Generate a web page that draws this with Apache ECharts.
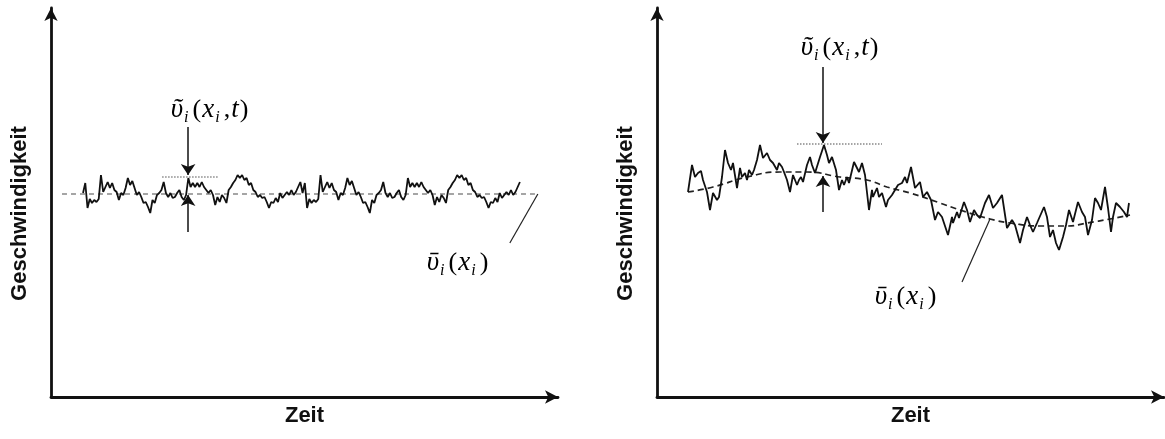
<!DOCTYPE html>
<html>
<head>
<meta charset="utf-8">
<script src="https://cdn.jsdelivr.net/npm/echarts@6/dist/echarts.min.js"></script>
<style>
  html, body { margin: 0; padding: 0; background: #fff; }
  #main { width: 1165px; height: 439px; }
</style>
</head>
<body>
<div id="main"></div>
<script>
// Links: Geschwindigkeit um einen konstanten Mittelwert (Messwert pro Zeitschritt)
var leftSpeed = [
  204,214,189,198,194,197,195,198,222,205,
  210,215,209,214,207,205,197,204,202,209,
  219,212,216,209,202,205,200,194,195,190,
  184,197,194,202,204,207,215,204,200,204,
  199,200,204,207,200,197,202,219,210,214,
  210,214,210,215,210,207,204,207,202,192,
  200,195,202,199,194,207,210,214,217,222,
  219,222,217,219,212,214,207,205,200,202,
  199,200,195,189,195,194,199,195,204,199,
  202,205,202,207,202,205,210,215,
  204,214,189,198,194,197,195,198,222,205,
  210,215,209,214,207,205,197,204,202,209,
  219,212,216,209,202,205,200,194,195,190,
  184,197,194,202,204,207,215,204,200,204,
  199,200,204,207,200,197,202,219,210,214,
  210,214,210,215,210,207,204,207,202,192,
  200,195,202,199,194,207,210,214,217,222,
  219,222,217,219,212,214,207,205,200,202,
  199,200,195,189,195,194,199,195,204,199,
  202,205,202,207,202,205,210,215
];
var leftMeanTime = [-9.4, 201.7];
var leftMeanSpeed = [203, 203];

// Rechts: Geschwindigkeit mit veraenderlichem Mittelwert
var rightTime = [
  31,35,38,41,44,46,50,53,56,60,62,65,68,71,74,76,80,83,85,88,
  90,92,95,97,100,103,106,110,113,116,120,122,125,127,130,133,136,140,142,144,
  146,150,153,155,158,163,167,170,172,175,179,182,185,187,190,192,197,200,202,205,
  208,212,215,216,220,222,225,229,231,235,238,241,245,248,250,254,258,263,266,270,
  274,278,281,285,291,295,296,300,302,307,310,313,317,320,323,328,332,336,340,345,
  350,355,358,363,366,370,373,376,380,387,390,393,396,399,402,406,409,412,416,421,
  425,428,431,435,438,441,444,448,451,454,456,459,463,467,470,472
];
var rightSpeed = [
  205,232,220,224,226,217,205,187,204,197,200,220,247,234,227,234,209,229,220,224,
  217,227,222,227,237,252,239,244,237,234,227,234,230,225,217,205,222,212,217,220,
  215,232,240,232,224,240,252,242,234,240,227,207,217,212,220,214,235,229,225,234,
  222,187,207,200,209,200,204,190,197,202,207,212,214,220,214,230,209,215,200,205,
  197,177,185,180,162,180,174,185,179,195,187,175,187,182,179,194,202,189,194,202,
  169,177,172,154,167,180,172,165,174,190,180,160,167,154,147,160,172,187,175,195,
  185,180,162,177,199,194,187,210,189,165,180,194,190,185,180,194
];
var rightMeanTime = [31,56,90,123,150,183,210,230,253,283,303,333,353,383,410,430,453,473];
var rightMeanSpeed = [205,210,220,225,225,220,217,210,204,194,187,178,174,171,171,174,178,182];

// Markierungen (Zeit, Geschwindigkeit)
var leftArrowDown = [[46.9, 270], [46.9, 222]];
var leftArrowUp = [[46.9, 165], [46.9, 202]];
var leftPeakLine = [[35.3, 220], [60.2, 220]];
var leftLeader = [[203, 203], [190.5, 154]];
var rightArrowDown = [[166, 330], [166, 254]];
var rightArrowUp = [[166, 185], [166, 221]];
var rightPeakLine = [[140, 253], [225, 253]];
var rightLeader = [[333, 178], [305, 115]];

function zip(t, v) {
  return t.map(function (x, i) { return [x, v[i]]; });
}

var serif = '"Liberation Serif", "DejaVu Serif", serif';
var mathRich = {
  v: { fontFamily: serif, fontStyle: 'italic', fontSize: 27, color: '#111', lineHeight: 32 },
  n: { fontFamily: serif, fontSize: 26, color: '#111', lineHeight: 32, padding: [0, 1, 0, 1] },
  s: { fontFamily: serif, fontStyle: 'italic', fontSize: 16, color: '#111', verticalAlign: 'bottom', lineHeight: 32, padding: [0, 3, 0, 1] }
};
var tildeLabel = '{v|\u1FE6}{s|i}{n|(}{v|x}{s|i}{n|,}{v|t}{n|)}';
var barLabel = '{v|\u1FE1}{s|i}{n|(}{v|x}{s|i}{n|)}';

function makeAxis(grid, min, max, name, isY) {
  var ax = {
    gridIndex: grid,
    type: 'value',
    min: min,
    max: max,
    name: name,
    nameLocation: 'middle',
    nameGap: isY ? 20 : 8,
    nameTextStyle: {
      fontFamily: '"Liberation Sans", Arial, sans-serif',
      fontWeight: 'bold',
      fontSize: 22,
      color: '#111'
    },
    axisLine: {
      show: true,
      onZero: false,
      symbol: ['none', 'arrow'],
      symbolSize: [10, 13],
      lineStyle: { color: '#111', width: 2.8 }
    },
    axisTick: { show: false },
    axisLabel: { show: false },
    splitLine: { show: false }
  };
  if (isY) ax.nameTextStyle.padding = [0, 22, 0, 0];
  return ax;
}

function arrow(grid, coords) {
  return {
    type: 'lines', coordinateSystem: 'cartesian2d',
    xAxisIndex: grid, yAxisIndex: grid,
    symbol: ['none', 'arrow'], symbolSize: 11,
    lineStyle: { color: '#111', width: 1.5, opacity: 1, curveness: 0 },
    data: [{ coords: coords }]
  };
}

function thin(grid, coords, type, color, width) {
  return {
    type: 'lines', coordinateSystem: 'cartesian2d',
    xAxisIndex: grid, yAxisIndex: grid,
    symbol: 'none',
    lineStyle: { color: color, width: width, type: type, opacity: 1, curveness: 0 },
    data: [{ coords: coords }]
  };
}

var option = {
  animation: false,
  backgroundColor: '#fff',
  grid: [
    { left: 51, top: 8, width: 507, height: 389 },
    { left: 657, top: 8, width: 507, height: 389 }
  ],
  xAxis: [
    makeAxis(0, -14.3, 212, 'Zeit', false),
    makeAxis(1, 0, 507, 'Zeit', false)
  ],
  yAxis: [
    makeAxis(0, 0, 389, 'Geschwindigkeit', true),
    makeAxis(1, 0, 389, 'Geschwindigkeit', true)
  ],
  series: [
    {
      type: 'line', xAxisIndex: 0, yAxisIndex: 0, showSymbol: false,
      lineStyle: { color: '#888', width: 1.6, type: [5, 4] },
      data: zip(leftMeanTime, leftMeanSpeed)
    },
    {
      type: 'line', xAxisIndex: 0, yAxisIndex: 0, showSymbol: false,
      lineStyle: { color: '#111', width: 1.8 },
      data: leftSpeed.map(function (v, i) { return [i, v]; })
    },
    {
      type: 'line', xAxisIndex: 1, yAxisIndex: 1, showSymbol: false, smooth: true,
      lineStyle: { color: '#222', width: 1.7, type: [6, 4] },
      data: zip(rightMeanTime, rightMeanSpeed)
    },
    {
      type: 'line', xAxisIndex: 1, yAxisIndex: 1, showSymbol: false,
      lineStyle: { color: '#111', width: 1.8 },
      data: zip(rightTime, rightSpeed)
    },
    arrow(0, leftArrowDown),
    arrow(0, leftArrowUp),
    thin(0, leftPeakLine, 'dotted', '#888', 1.5),
    thin(0, leftLeader, 'solid', '#222', 1.2),
    arrow(1, rightArrowDown),
    arrow(1, rightArrowUp),
    thin(1, rightPeakLine, 'dotted', '#888', 1.5),
    thin(1, rightLeader, 'solid', '#222', 1.2)
  ],
  graphic: [
    { type: 'text', x: 210, y: 110, style: { text: tildeLabel, rich: mathRich, align: 'center', verticalAlign: 'middle' } },
    { type: 'text', x: 458, y: 263, style: { text: barLabel, rich: mathRich, align: 'center', verticalAlign: 'middle' } },
    { type: 'text', x: 840, y: 48, style: { text: tildeLabel, rich: mathRich, align: 'center', verticalAlign: 'middle' } },
    { type: 'text', x: 906, y: 297, style: { text: barLabel, rich: mathRich, align: 'center', verticalAlign: 'middle' } }
  ]
};

var myChart = echarts.init(document.getElementById('main'));
myChart.setOption(option);
</script>
</body>
</html>
